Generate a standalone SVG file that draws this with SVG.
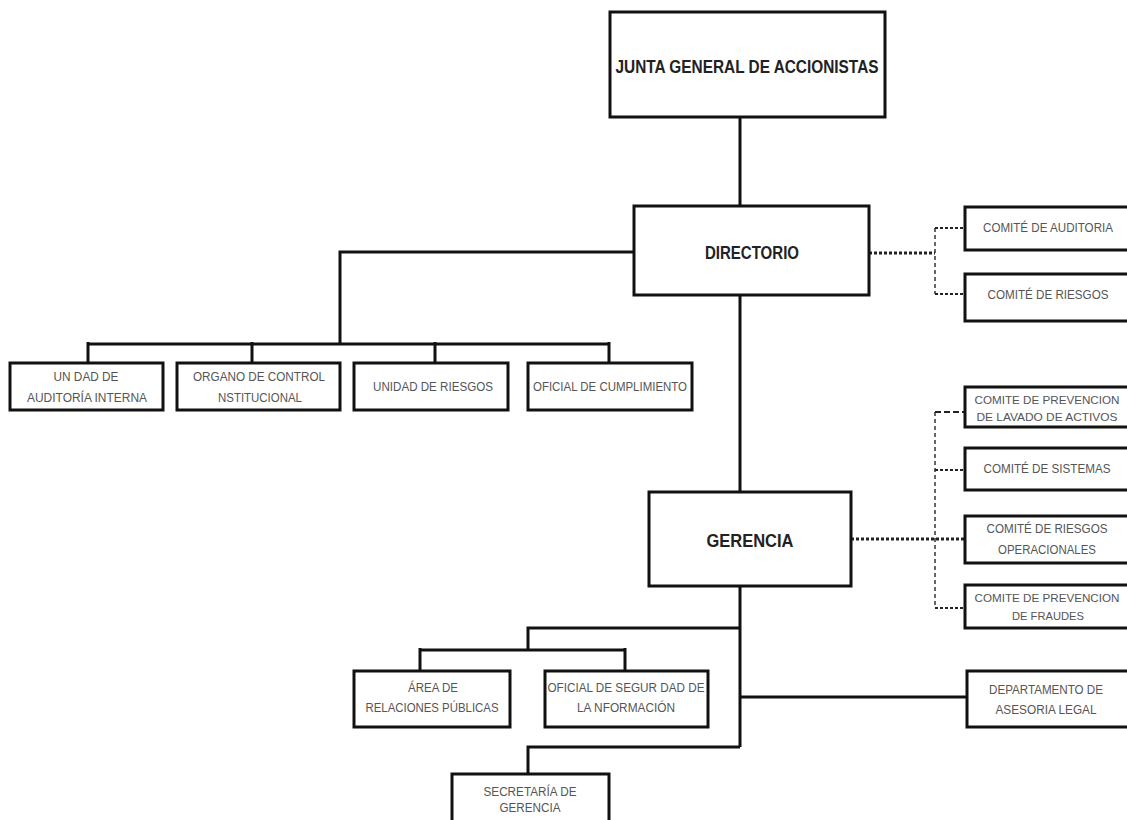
<svg xmlns="http://www.w3.org/2000/svg" width="1127" height="820" viewBox="0 0 1127 820">
<style>
.box{fill:#fff;stroke:#111;stroke-width:3}
.ln{fill:none;stroke:#111;stroke-width:3}
.dot{fill:none;stroke:#222;stroke-width:3;stroke-dasharray:3 2}
.vd{fill:none;stroke:#333;stroke-width:1.5;stroke-dasharray:4 3}
.br{fill:none;stroke:#222;stroke-width:2;stroke-dasharray:3 2}
.big{font-family:"Liberation Sans",Arial,sans-serif;font-weight:bold;fill:#222;text-anchor:middle;dominant-baseline:central}
.sm{font-family:"Liberation Sans",Arial,sans-serif;font-size:12.5px;fill:#555;text-anchor:middle;dominant-baseline:central}
.tight{font-size:11.5px}
</style>
<rect width="1127" height="820" fill="#fff"/>
<g id="connectors">
<path class="ln" d="M740 117V206M740 295V492M634 252H340V344M88 344H610M88 342V363M252 342V363M435 342V363M609 342V363"/>
<path class="ln" d="M740 586V747M740 628H528V650M420 650H625M420 648V671M625 648V671M740 697H967M740 747H528V774"/>
<path class="dot" d="M869 253H935M851 539H965"/>
<path class="vd" d="M935 228V294M935 412V608"/>
<path class="br" d="M935 228H965M935 294H965M935 470H965M935 608H965"/>
<path fill="none" stroke="#222" stroke-width="2" stroke-dasharray="6 3" d="M935 412H965"/>
</g>
<g id="junta"><rect class="box" x="610" y="12" width="275" height="105"/><text class="big" x="747" y="66" font-size="19" textLength="263" lengthAdjust="spacingAndGlyphs">JUNTA GENERAL DE ACCIONISTAS</text></g>
<g id="directorio"><rect class="box" x="634" y="206" width="235" height="89"/><text class="big" x="752" y="253" font-size="18" textLength="94" lengthAdjust="spacingAndGlyphs">DIRECTORIO</text></g>
<g id="comite-auditoria"><rect class="box" x="965" y="207" width="180" height="43"/><text class="sm" x="1048" y="228" textLength="130" lengthAdjust="spacingAndGlyphs">COMITÉ DE AUDITORIA</text></g>
<g id="comite-riesgos"><rect class="box" x="965" y="274" width="180" height="47"/><text class="sm" x="1048" y="295" textLength="121" lengthAdjust="spacingAndGlyphs">COMITÉ DE RIESGOS</text></g>
<g id="auditoria-interna"><rect class="box" x="10" y="363" width="153" height="47"/><text class="sm" x="86" y="377" textLength="65" lengthAdjust="spacingAndGlyphs">UN DAD DE</text><text class="sm" x="87" y="398" textLength="120" lengthAdjust="spacingAndGlyphs">AUDITORÍA INTERNA</text></g>
<g id="organo-control"><rect class="box" x="177" y="363" width="163" height="47"/><text class="sm" x="259" y="377" textLength="132" lengthAdjust="spacingAndGlyphs">ORGANO DE CONTROL</text><text class="sm" x="260" y="398" textLength="84" lengthAdjust="spacingAndGlyphs">NSTITUCIONAL</text></g>
<g id="unidad-riesgos"><rect class="box" x="354" y="363" width="154" height="47"/><text class="sm" x="433" y="387" textLength="120" lengthAdjust="spacingAndGlyphs">UNIDAD DE RIESGOS</text></g>
<g id="oficial-cumplimiento"><rect class="box" x="528" y="363" width="164" height="47"/><text class="sm" x="610" y="387" textLength="154" lengthAdjust="spacingAndGlyphs">OFICIAL DE CUMPLIMIENTO</text></g>
<g id="gerencia"><rect class="box" x="649" y="492" width="202" height="94"/><text class="big" x="750" y="540" font-size="19" textLength="87" lengthAdjust="spacingAndGlyphs">GERENCIA</text></g>
<g id="comite-lavado"><rect class="box" x="965" y="387" width="180" height="40"/><text class="sm tight" x="1047" y="400" textLength="145" lengthAdjust="spacingAndGlyphs">COMITE DE PREVENCION</text><text class="sm tight" x="1047" y="417" textLength="141" lengthAdjust="spacingAndGlyphs">DE LAVADO DE ACTIVOS</text></g>
<g id="comite-sistemas"><rect class="box" x="965" y="448" width="180" height="42"/><text class="sm" x="1047" y="469" textLength="127" lengthAdjust="spacingAndGlyphs">COMITÉ DE SISTEMAS</text></g>
<g id="comite-operacionales"><rect class="box" x="965" y="516" width="180" height="47"/><text class="sm" x="1047" y="529" textLength="121" lengthAdjust="spacingAndGlyphs">COMITÉ DE RIESGOS</text><text class="sm" x="1047" y="550" textLength="98" lengthAdjust="spacingAndGlyphs">OPERACIONALES</text></g>
<g id="comite-fraudes"><rect class="box" x="965" y="585" width="180" height="43"/><text class="sm tight" x="1047" y="598" textLength="145" lengthAdjust="spacingAndGlyphs">COMITE DE PREVENCION</text><text class="sm tight" x="1048" y="616" textLength="72" lengthAdjust="spacingAndGlyphs">DE FRAUDES</text></g>
<g id="relaciones-publicas"><rect class="box" x="354" y="671" width="156" height="56"/><text class="sm" x="433" y="688" textLength="50" lengthAdjust="spacingAndGlyphs">ÁREA DE</text><text class="sm" x="432" y="708" textLength="133" lengthAdjust="spacingAndGlyphs">RELACIONES PÚBLICAS</text></g>
<g id="seguridad-informacion"><rect class="box" x="545" y="671" width="163" height="56"/><text class="sm" x="626" y="688" textLength="157" lengthAdjust="spacingAndGlyphs">OFICIAL DE SEGUR DAD DE</text><text class="sm" x="626" y="708" textLength="98" lengthAdjust="spacingAndGlyphs">LA  NFORMACIÓN</text></g>
<g id="asesoria-legal"><rect class="box" x="967" y="671" width="180" height="56"/><text class="sm" x="1046" y="690" textLength="114" lengthAdjust="spacingAndGlyphs">DEPARTAMENTO DE</text><text class="sm" x="1046" y="710" textLength="101" lengthAdjust="spacingAndGlyphs">ASESORIA LEGAL</text></g>
<g id="secretaria"><rect class="box" x="452" y="774" width="157" height="60"/><text class="sm" x="530" y="792" textLength="93" lengthAdjust="spacingAndGlyphs">SECRETARÍA DE</text><text class="sm" x="530" y="808" textLength="61" lengthAdjust="spacingAndGlyphs">GERENCIA</text></g>
</svg>
